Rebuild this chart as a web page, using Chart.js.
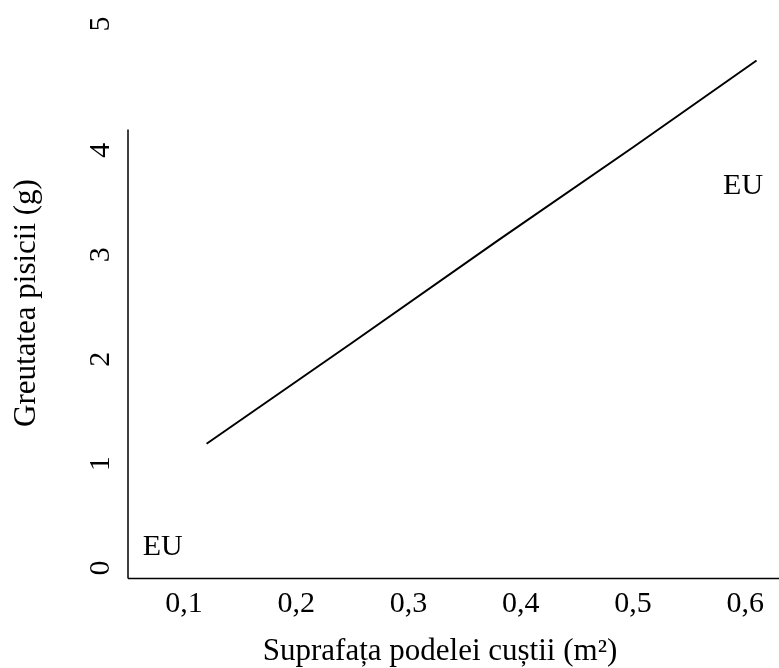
<!DOCTYPE html>
<html>
<head>
<meta charset="utf-8">
<script src="https://cdn.jsdelivr.net/npm/chart.js@4.4.1/dist/chart.umd.min.js"></script>
<style>
  html, body { margin: 0; padding: 0; background: #fff; }
  #wrap { width: 779px; height: 668px; position: relative; }
</style>
</head>
<body>
<div id="wrap"><canvas id="chart"></canvas></div>
<script>
// data
const surface = [0.12, 0.25, 0.38, 0.5, 0.61];
const weight = [1.19, 2.16, 3.14, 4.03, 4.86];

const xTicks = [0.1, 0.2, 0.3, 0.4, 0.5, 0.6];
const xTickLabels = ['0,1', '0,2', '0,3', '0,4', '0,5', '0,6'];
const yTicks = [0, 1, 2, 3, 4, 5];
const yTickLabels = ['0', '1', '2', '3', '4', '5'];

const regionLabels = ['EU', 'EU'];
const regionX = [0.081, 0.598];
const regionY = [0.2, 3.66];

const xTitle = 'Suprafața podelei cuștii (m²)';
const yTitle = 'Greutatea pisicii (g)';

const serif = '"Liberation Serif", "Times New Roman", serif';

// the "5" sits higher than the even spacing in the original figure
const yTopLabelAt = 5.21;
const yAxisLineTop = 4.2;

const decor = {
    id: 'decor',
    afterDraw(chart) {
        const { ctx } = chart;
        const x = chart.scales.x;
        const y = chart.scales.y;
        ctx.save();
        ctx.strokeStyle = '#000';
        ctx.lineWidth = 1.5;
        ctx.beginPath();
        ctx.moveTo(x.left, y.bottom);
        ctx.lineTo(x.right, y.bottom);
        ctx.moveTo(x.left, y.bottom);
        ctx.lineTo(x.left, y.getPixelForValue(yAxisLineTop));
        ctx.stroke();

        ctx.fillStyle = '#000';
        ctx.font = '30px ' + serif;
        ctx.textAlign = 'center';
        ctx.textBaseline = 'middle';
        regionLabels.forEach((t, i) => {
            ctx.fillText(t, x.getPixelForValue(regionX[i]), y.getPixelForValue(regionY[i]));
        });

        ctx.textBaseline = 'alphabetic';
        ctx.font = '31px ' + serif;
        ctx.fillText(xTitle, 440, 660);

        ctx.translate(35, 303);
        ctx.rotate(-Math.PI / 2);
        ctx.font = '31px ' + serif;
        ctx.fillText(yTitle, 0, 0);
        ctx.restore();
    }
};

new Chart(document.getElementById('chart'), {
    type: 'scatter',
    data: {
        datasets: [{
            data: surface.map((v, i) => ({ x: v, y: weight[i] })),
            showLine: true,
            borderColor: '#000',
            borderWidth: 2,
            pointRadius: 0,
            tension: 0
        }]
    },
    options: {
        responsive: true,
        maintainAspectRatio: false,
        animation: false,
        layout: { padding: { top: 24, right: 0, left: 0, bottom: 0 } },
        plugins: { legend: { display: false }, tooltip: { enabled: false } },
        scales: {
            x: {
                type: 'linear',
                min: 0.05,
                max: 0.63,
                border: { display: false },
                grid: { display: false, drawTicks: false },
                afterBuildTicks: (s) => { s.ticks = xTicks.map(v => ({ value: v })); },
                afterFit: (s) => {
                    s.height = 89.5;
                    s.paddingLeft = 0;
                    s.paddingRight = 0;
                },
                ticks: {
                    autoSkip: false,
                    maxRotation: 0,
                    padding: 8,
                    color: '#000',
                    font: { family: serif, size: 30 },
                    callback: (v, i) => xTickLabels[i]
                }
            },
            y: {
                type: 'linear',
                min: -0.1,
                max: yTopLabelAt,
                border: { display: false },
                grid: { display: false, drawTicks: false },
                afterBuildTicks: (s) => {
                    s.ticks = yTicks.map(v => ({ value: v === 5 ? yTopLabelAt : v }));
                },
                afterFit: (s) => {
                    s.width = 128;
                    s.paddingTop = 0;
                    s.paddingBottom = 0;
                },
                ticks: {
                    autoSkip: false,
                    minRotation: 90,
                    maxRotation: 90,
                    crossAlign: 'center',
                    padding: 19,
                    color: '#000',
                    font: { family: serif, size: 30 },
                    callback: (v, i) => yTickLabels[i]
                }
            }
        }
    },
    plugins: [decor]
});
</script>
</body>
</html>
